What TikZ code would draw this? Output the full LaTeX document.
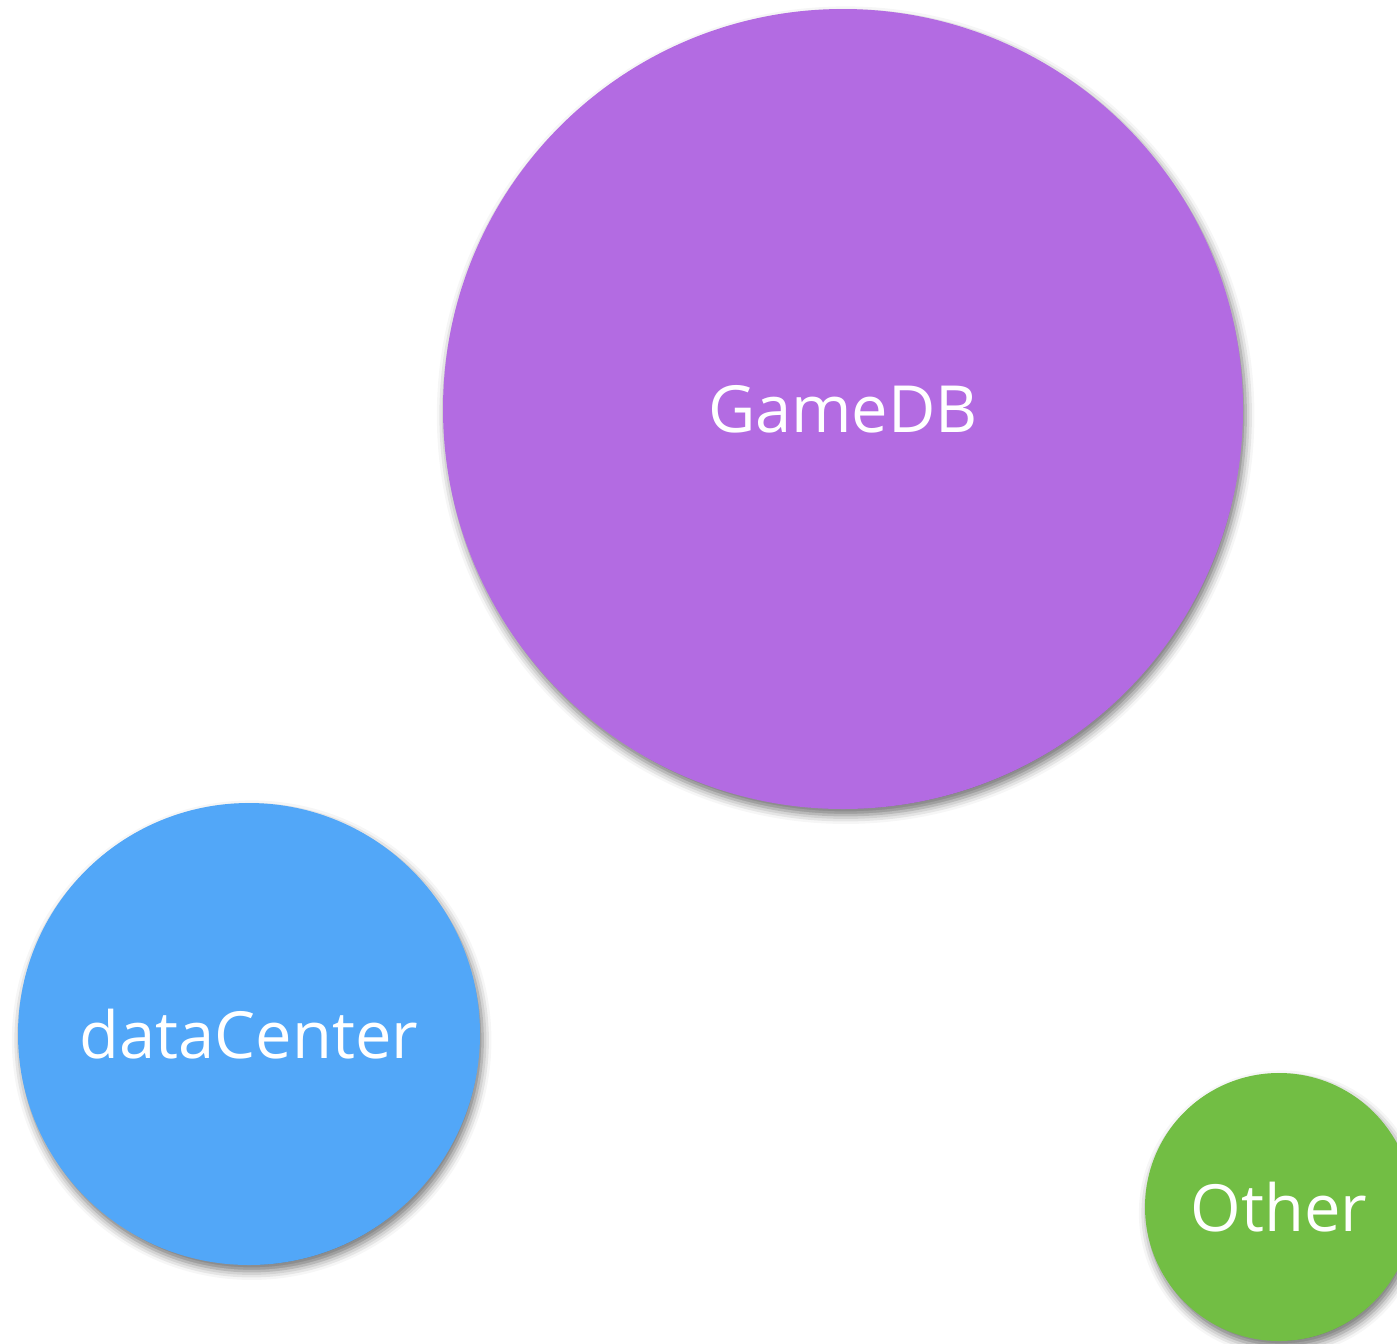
\documentclass[tikz,border=0pt]{standalone}
\usepackage{fontspec}
\setmainfont{Open Sans}
\usetikzlibrary{shadows.blur}
\definecolor{gamecol}{HTML}{B36BE2}
\definecolor{datacol}{HTML}{52A7F8}
\definecolor{othercol}{HTML}{72BE44}
\tikzset{bubble/.style = {circle, fill=#1, text=white, inner sep=0pt,
    font=\fontsize{37}{40}\selectfont,
    blur shadow={shadow xshift=1.5pt, shadow yshift=-3.5pt, shadow blur radius=5pt, shadow opacity=55}}}

\begin{document}
\begin{tikzpicture}
    \useasboundingbox (0,0) rectangle (27.94,-26.86);
    \clip (0,0) rectangle (27.94,-26.86);
    \node[bubble=gamecol, minimum size=16cm] (game) at (16.86,-8.18) {GameDB};
    \node[bubble=datacol, minimum size=9.24cm] (data) at (4.98,-20.68) {dataCenter};
    \node[bubble=othercol, minimum size=5.36cm] (other) at (25.58,-24.14) {Other};
\end{tikzpicture}
\end{document}
